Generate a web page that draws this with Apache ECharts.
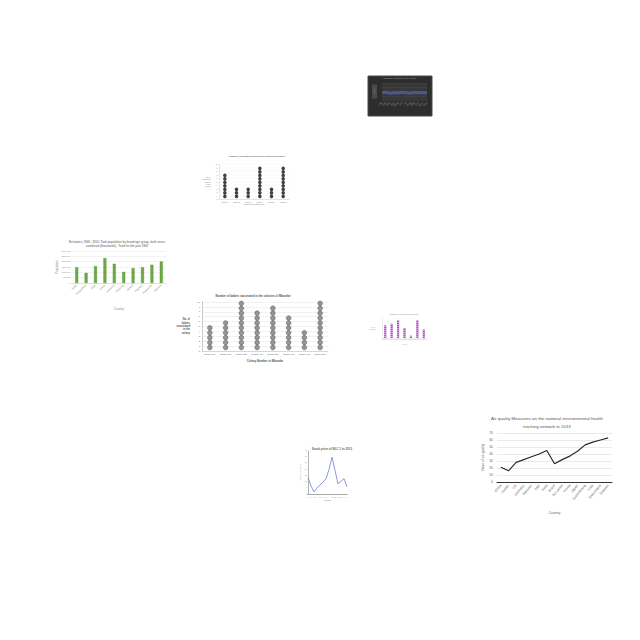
<!DOCTYPE html>
<html><head><meta charset="utf-8">
<script src="https://cdn.jsdelivr.net/npm/echarts@6/dist/echarts.min.js"></script>
<style>html,body{margin:0;padding:0;background:#fff}#c{width:640px;height:640px}</style>
</head><body><div id="c"></div>
<script>
// ---- data ----
const darkCats = ['Jan','Feb','Mar','Apr','May','Jun','Jul','Aug','Sep','Oct','Nov','Dec'];
const darkValues = [42, 45, 40, 44, 41, 46, 43, 40, 45, 42, 44, 43];

const sectorCats = ['Sector 1','Sector 2','Sector 3','Sector 4','Sector 5','Sector 6'];
const sectorChildren = [7, 3, 3, 9, 3, 9];

const popCountries = ['Brazil','Bangladesh','Chile','China','Indonesia','Malaysia','Mexico','Pakistan','Philippines','Vietnam'];
const popValues = [148000, 95000, 158000, 234000, 180000, 104000, 139000, 148000, 171000, 202000];

const colonyCats = ['Colony 1W','Colony 2W','Colony 3W','Colony 4W','Colony 5W','Colony 6W','Colony 7W','Colony 8W'];
const colonyBabies = [5, 6, 10, 8, 9, 7, 4, 10];

const gradeCats = ['Grade 1','Grade 2','Grade 3','Grade 4','Grade 5','Grade 6','Grade 7'];
const gradeStudents = [12.7, 14.3, 17.7, 10, 2.3, 17.7, 8.5];

const stockMonths = ['J','F','M','A','M','J','J','A','S','O','N','D','J','F'];
const stockPrices = [16, 8, 2, 6, 9, 11.5, 15, 24, 36, 23, 10, 12.5, 15, 7];

const airCountries = ['China','Jordan','UK','Germany','Pakistan','Italy','India','Brazil','Sri Lanka','Korea','Japan','Luxembourg','USA','Switzerland','Sweden'];
const airValues = [21, 16, 28, 32, 36, 40, 45, 26, 32, 37, 44, 53, 57, 60, 63];

// ---- helpers ----
function dotData(values, offset) {
  const out = [];
  values.forEach((v, i) => { for (let k = 1; k <= v; k++) out.push([i, k - offset]); });
  return out;
}
const F = 'Liberation Sans';
const tiny = (c, s) => ({ fontSize: s, color: c, fontFamily: F });

const option = {
  animation: false,
  backgroundColor: '#ffffff',
  textStyle: { fontFamily: F },
  title: [
    { text: 'Monthly values of the index', left: 400, top: 77, padding: 0, textAlign: 'center', textStyle: tiny('#8a8a8a', 2.5) },
    { text: 'Number of vaccinated children in the sectors of the district', left: 257, top: 155, padding: 0, textAlign: 'center', textStyle: tiny('#666', 2) },
    { text: 'Estimates, 1960 - 2016: Total population by broad age group, both sexes\ncombined (thousands) - Total for the year 1960', left: 117, top: 240, padding: 0, textAlign: 'center', textStyle: Object.assign(tiny('#888', 2.8), { lineHeight: 3.6 }) },
    { text: 'Number of babies vaccinated in the colonies of Mbombe', left: 253, top: 294, padding: 0, textAlign: 'center', textStyle: Object.assign(tiny('#555', 2.8), { fontWeight: 'bold' }) },
    { text: 'Number of students per grade', left: 404, top: 313, padding: 0, textAlign: 'center', textStyle: tiny('#aaa', 2) },
    { text: 'Stock price of NLC 1 in 2013', left: 332, top: 447, padding: 0, textAlign: 'center', textStyle: tiny('#666', 3) },
    { text: 'Air quality Measures on the national environmental health\ntracking network in 2013', left: 547, top: 414, padding: 0, textAlign: 'center', textStyle: Object.assign(tiny('#555', 4.4), { fontWeight: 'normal', lineHeight: 8 }) }
  ],
  grid: [
    { left: 368, top: 76, width: 64, height: 40, show: true, backgroundColor: '#2d2d2d', borderColor: '#4a4a4a', borderWidth: 1 },   // 0 dark frame
    { left: 382, top: 83, width: 45, height: 17, show: true, backgroundColor: '#383838', borderWidth: 0 },                       // 1 dark plot
    { left: 219, top: 164, width: 70, height: 35 },   // 2 small dots
    { left: 72, top: 251, width: 94, height: 32 },    // 3 green bars
    { left: 202, top: 302, width: 126, height: 49 },  // 4 big dots
    { left: 382, top: 318, width: 45, height: 20 },   // 5 purple
    { left: 308, top: 451, width: 39, height: 43 },   // 6 stock line
    { left: 497, top: 433, width: 115, height: 49 }   // 7 air quality
  ],
  xAxis: [
    { gridIndex: 0, type: 'category', data: darkCats, show: false },
    { gridIndex: 1, type: 'category', data: darkCats, boundaryGap: false,
      axisLine: { show: false }, axisTick: { show: false },
      axisLabel: { rotate: 45, margin: 2, fontSize: 3, color: '#8c8c8c', fontFamily: F, interval: 0 } },
    { gridIndex: 2, type: 'category', data: sectorCats,
      name: 'Sectors of the district (No.)', nameLocation: 'middle', nameGap: 4, nameTextStyle: tiny('#777', 1.8),
      axisLine: { lineStyle: { color: '#ccc', width: 0.5 } }, axisTick: { show: false },
      axisLabel: { margin: 1.5, fontSize: 1.8, color: '#777', fontFamily: F, interval: 0 } },
    { gridIndex: 3, type: 'category', data: popCountries,
      name: 'Country', nameLocation: 'middle', nameGap: 24, nameTextStyle: tiny('#888', 2.8),
      axisLine: { lineStyle: { color: '#ccc', width: 0.5 } }, axisTick: { show: false },
      axisLabel: { rotate: 45, margin: 2, fontSize: 2.6, color: '#888', fontFamily: F, interval: 0 } },
    { gridIndex: 4, type: 'category', data: colonyCats,
      name: 'Colony Number in Mbombe', nameLocation: 'middle', nameGap: 8, nameTextStyle: Object.assign(tiny('#555', 2.8), { fontWeight: 'bold' }),
      axisLine: { lineStyle: { color: '#bbb', width: 0.5 } }, axisTick: { show: false },
      axisLabel: { margin: 2, fontSize: 2.3, color: '#555', fontFamily: F, interval: 0 } },
    { gridIndex: 5, type: 'category', data: gradeCats,
      name: 'Grade', nameLocation: 'middle', nameGap: 4.5, nameTextStyle: tiny('#aaa', 1.8),
      axisLine: { lineStyle: { color: '#ddd', width: 0.5 } }, axisTick: { show: false },
      axisLabel: { margin: 1, fontSize: 1.6, color: '#aaa', fontFamily: F, interval: 0 } },
    { gridIndex: 6, type: 'category', data: stockMonths, boundaryGap: false,
      name: 'Month', nameLocation: 'middle', nameGap: 5, nameTextStyle: tiny('#777', 2.4),
      axisLine: { lineStyle: { color: '#666', width: 0.5 } }, axisTick: { length: 1, interval: 0, lineStyle: { color: '#666', width: 0.4 } },
      axisLabel: { margin: 1.5, fontSize: 1.8, color: '#777', fontFamily: F, interval: 0 } },
    { gridIndex: 7, type: 'category', data: airCountries,
      name: 'Country', nameLocation: 'middle', nameGap: 29, nameTextStyle: tiny('#666', 3.4),
      axisLine: { lineStyle: { color: '#333', width: 1 } }, axisTick: { show: false },
      axisLabel: { rotate: 50, margin: 3, fontSize: 3.4, color: '#666', fontFamily: F, interval: 0 } }
  ],
  yAxis: [
    { gridIndex: 0, type: 'value', show: false },
    { gridIndex: 1, type: 'value', min: 0, max: 100, interval: 25,
      name: 'Index', nameLocation: 'middle', nameGap: 5, nameMoveOverlap: false,
      nameTextStyle: Object.assign(tiny('#9a9a9a', 2.5), { backgroundColor: '#4a4a4a', padding: [1, 4] }),
      axisLine: { show: false }, axisTick: { show: false },
      axisLabel: { show: false },
      splitLine: { lineStyle: { color: '#444', width: 0.5 } } },
    { gridIndex: 2, type: 'value', min: 0, max: 10, interval: 1,
      name: 'No. of\nvaccinated\nchildren\nin the\nsector', nameLocation: 'middle', nameRotate: 0, nameGap: 6, nameTextStyle: Object.assign(tiny('#777', 1.8), { lineHeight: 2.4 }),
      axisLine: { show: true, lineStyle: { color: '#ccc', width: 0.5 } }, axisTick: { show: false },
      axisLabel: { margin: 1.5, fontSize: 1.8, color: '#777', fontFamily: F },
      splitLine: { lineStyle: { color: '#f0f0f0', width: 0.4 } } },
    { gridIndex: 3, type: 'value', min: 0, max: 300000, interval: 50000,
      name: 'Population', nameLocation: 'middle', nameGap: 11, nameTextStyle: tiny('#888', 2.8),
      axisLine: { show: false }, axisTick: { show: false },
      axisLabel: { margin: 1.5, fontSize: 2.4, color: '#888', fontFamily: F },
      splitLine: { lineStyle: { color: '#e6e6e6', width: 0.5 } } },
    { gridIndex: 4, type: 'value', min: 0, max: 10, interval: 1,
      name: 'No. of\nbabies\nvaccinated\nin the\ncolony', nameLocation: 'middle', nameRotate: 0, nameGap: 12, nameTextStyle: Object.assign(tiny('#555', 2.6), { fontWeight: 'bold', lineHeight: 3.4 }),
      axisLine: { show: true, lineStyle: { color: '#999', width: 0.5 } }, axisTick: { show: false },
      axisLabel: { margin: 2, fontSize: 2.4, color: '#555', fontFamily: F },
      splitLine: { lineStyle: { color: '#e2e2e2', width: 0.5 } } },
    { gridIndex: 5, type: 'value', min: 0, max: 20, interval: 5,
      name: 'No. of\nstudents', nameLocation: 'middle', nameRotate: 0, nameGap: 6, nameTextStyle: Object.assign(tiny('#aaa', 1.8), { lineHeight: 2.4 }),
      axisLine: { show: true, lineStyle: { color: '#ddd', width: 0.5 } }, axisTick: { show: false },
      axisLabel: { show: false }, splitLine: { show: false } },
    { gridIndex: 6, type: 'value', min: 0, max: 42, interval: 6,
      name: 'Stock price (USD)', nameLocation: 'middle', nameGap: 5, nameTextStyle: tiny('#777', 2),
      axisLine: { show: true, lineStyle: { color: '#666', width: 0.5 } }, axisTick: { length: 1, lineStyle: { color: '#666', width: 0.4 } },
      axisLabel: { margin: 1.2, fontSize: 1.6, color: '#777', fontFamily: F },
      splitLine: { show: false } },
    { gridIndex: 7, type: 'value', min: 0, max: 70, interval: 10,
      name: 'Value of air quality', nameLocation: 'middle', nameGap: 13, nameTextStyle: tiny('#666', 3.4),
      axisLine: { show: false }, axisTick: { show: false },
      axisLabel: { margin: 4, fontSize: 3.4, color: '#666', fontFamily: F },
      splitLine: { lineStyle: { color: '#dcdcdc', width: 0.6 } } }
  ],
  series: [
    { type: 'line', xAxisIndex: 1, yAxisIndex: 1, data: darkValues, symbol: 'none',
      lineStyle: { color: '#4f5fa8', width: 3, opacity: 0.8 } },
    { type: 'scatter', xAxisIndex: 2, yAxisIndex: 2, data: dotData(sectorChildren, 0.25),
      symbol: 'circle', symbolSize: 3.5, itemStyle: { color: '#111' } },
    { type: 'bar', xAxisIndex: 3, yAxisIndex: 3, data: popValues, barWidth: '32%',
      itemStyle: { color: '#6aab45', borderColor: '#4f8a33', borderWidth: 0.3 } },
    { type: 'scatter', xAxisIndex: 4, yAxisIndex: 4, data: dotData(colonyBabies, 0.28),
      symbol: 'circle', symbolSize: 4.8, itemStyle: { color: '#7a7a7a', borderColor: '#4e4e4e', borderWidth: 0.5 } },
    { type: 'bar', xAxisIndex: 5, yAxisIndex: 5, data: gradeStudents, barWidth: 2.2,
      itemStyle: { color: '#a855b8', decal: { symbol: 'rect', dashArrayX: [1, 0], dashArrayY: [1, 1], color: 'rgba(255,255,255,0.45)', rotation: 0 } } },
    { type: 'line', xAxisIndex: 6, yAxisIndex: 6, data: stockPrices, symbol: 'none',
      lineStyle: { color: '#6b7fd6', width: 0.8 } },
    { type: 'line', xAxisIndex: 7, yAxisIndex: 7, data: airValues, symbol: 'none',
      lineStyle: { color: '#2b2b2b', width: 1.2 } }
  ]
};

const chart = echarts.init(document.getElementById('c'), null, { renderer: 'svg', width: 640, height: 640 });
chart.setOption(option);
</script>
</body></html>
